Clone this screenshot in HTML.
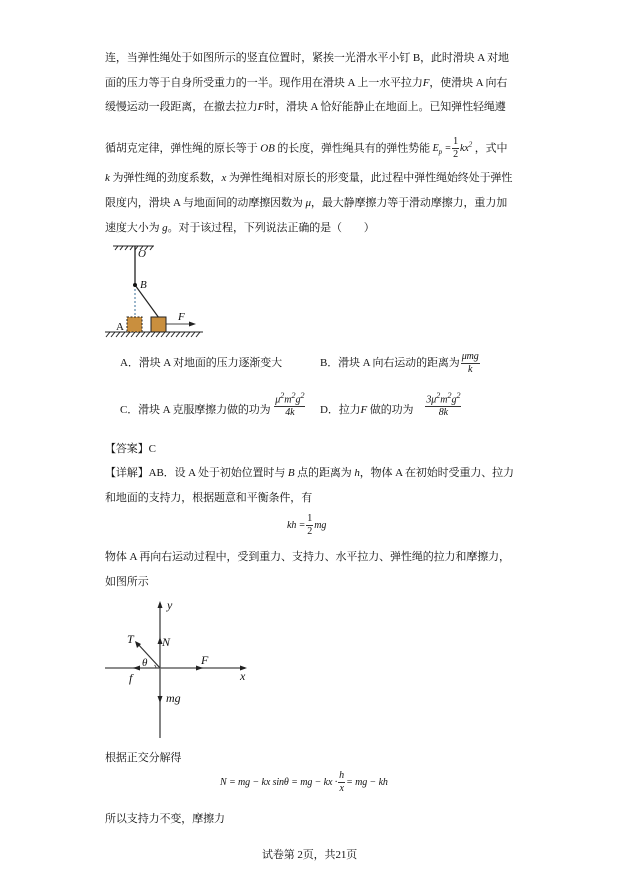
<!DOCTYPE html>
<html><head><meta charset="utf-8"><style>
body{margin:0;background:#fff;width:620px;height:877px;position:relative;overflow:hidden;font-family:"Liberation Serif","Noto Serif CJK SC","Noto Sans CJK SC",serif;font-size:11px;color:#111}
.l{position:absolute;white-space:nowrap;line-height:14px;letter-spacing:-0.1px}
i{font-family:"Liberation Serif",serif}
.f{display:inline-block;vertical-align:middle;text-align:center;font-family:"Liberation Serif",serif;font-style:italic;font-size:10px;line-height:12px;margin:0 1px}
.f .n{border-bottom:1px solid #333;padding:0 1px}
.m{font-family:"Liberation Serif",serif;font-style:italic;font-size:10px}
</style></head><body>
<div class="l" style="left:105px;top:51px">连，当弹性绳处于如图所示的竖直位置时，紧挨一光滑水平小钉 B，此时滑块 A 对地</div>
<div class="l" style="left:105px;top:76px">面的压力等于自身所受重力的一半。现作用在滑块 A 上一水平拉力<i>F</i>，使滑块 A 向右</div>
<div class="l" style="left:105px;top:100px">缓慢运动一段距离，在撤去拉力<i>F</i>时，滑块 A 恰好能静止在地面上。已知弹性轻绳遵</div>
<div class="l" style="left:105px;top:131px;line-height:28px">循胡克定律，弹性绳的原长等于 <i>OB</i> 的长度，弹性绳具有的弹性势能 <span class="m">E<sub style="font-size:7px">p</sub> =</span><span class="f" style="font-style:normal"><div class="n">1</div><div>2</div></span><span class="m">kx<sup style="font-size:7px">2</sup></span> ，式中</div>
<div class="l" style="left:105px;top:171px"><i>k</i> 为弹性绳的劲度系数，<i>x</i> 为弹性绳相对原长的形变量，此过程中弹性绳始终处于弹性</div>
<div class="l" style="left:105px;top:196px">限度内，滑块 A 与地面间的动摩擦因数为 <i>μ</i>，最大静摩擦力等于滑动摩擦力，重力加</div>
<div class="l" style="left:105px;top:221px">速度大小为 <i>g</i>。对于该过程，下列说法正确的是（　　）</div>

<svg style="position:absolute;left:0;top:0" width="620" height="877">
<g stroke="#222" stroke-width="1" fill="none">
<line x1="113" y1="246" x2="154" y2="246"/>
<path d="M115 250 l3 -4 M120 250 l3 -4 M125 250 l3 -4 M130 250 l3 -4 M135 250 l3 -4 M140 250 l3 -4 M145 250 l3 -4 M150 250 l3 -4"/>
<line x1="135" y1="246" x2="135" y2="284" stroke-width="1.3"/>
<line x1="135" y1="285" x2="135" y2="317" stroke="#3a6f9a" stroke-dasharray="2,2"/>
<line x1="135" y1="285" x2="159" y2="318" stroke-width="1.2"/>
<line x1="105" y1="332" x2="203" y2="332"/>
<path d="M106 337 l4 -5 M111 337 l4 -5 M116 337 l4 -5 M121 337 l4 -5 M126 337 l4 -5 M131 337 l4 -5 M136 337 l4 -5 M141 337 l4 -5 M146 337 l4 -5 M151 337 l4 -5 M156 337 l4 -5 M161 337 l4 -5 M166 337 l4 -5 M171 337 l4 -5 M176 337 l4 -5 M181 337 l4 -5 M186 337 l4 -5 M191 337 l4 -5 M196 337 l4 -5"/>
<line x1="166" y1="324" x2="192" y2="324" stroke="#444"/>
</g>
<circle cx="135" cy="285" r="2" fill="#111"/>
<rect x="127" y="317" width="15" height="15" fill="#c98f3e" stroke="#222" stroke-dasharray="2,1.5"/>
<rect x="151" y="317" width="15" height="15" fill="#c98f3e" stroke="#222"/>
<polygon points="196,324 189,321.5 189,326.5" fill="#222"/>
<g font-family="Liberation Serif" font-size="11" font-style="italic" fill="#111">
<text x="138" y="257">O</text><text x="140" y="288">B</text><text x="178" y="320">F</text>
<text x="116" y="330" font-style="normal">A</text>
</g>
<g stroke="#333" stroke-width="1.2" fill="none">
<line x1="160" y1="603" x2="160" y2="738"/>
<line x1="105" y1="668" x2="245" y2="668" stroke="#666" stroke-width="1.5"/>
<line x1="160" y1="668" x2="137" y2="643"/>
<path d="M156 668 a4 4 0 0 0 -1.5 -3" stroke-width="0.8"/>
</g>
<g fill="#222">
<polygon points="160,601 157.5,608 162.5,608"/>
<polygon points="160,637 157.5,644 162.5,644"/>
<polygon points="160,703 157.5,696 162.5,696"/>
<polygon points="247,668 240,665.5 240,670.5"/>
<polygon points="203,668 196,665.5 196,670.5"/>
<polygon points="133,668 140,665.5 140,670.5"/>
<polygon points="135,641 137,648 141,644"/>
</g>
<g font-family="Liberation Serif" font-size="12" font-style="italic" fill="#111">
<text x="167" y="609">y</text><text x="162" y="646">N</text><text x="127" y="643">T</text>
<text x="142" y="666" font-size="11">θ</text><text x="201" y="664">F</text>
<text x="240" y="680">x</text><text x="129" y="682">f</text><text x="166" y="702">mg</text>
</g>
</svg>

<div class="l" style="left:120px;top:356px">A．滑块 A 对地面的压力逐渐变大</div>
<div class="l" style="left:320px;top:349px;line-height:28px">B．滑块 A 向右运动的距离为<span class="f"><div class="n">μmg</div><div>k</div></span></div>
<div class="l" style="left:120px;top:392px;line-height:36px">C．滑块 A 克服摩擦力做的功为 <span class="f" style="position:relative;top:-6px"><div class="n">μ<sup>2</sup>m<sup>2</sup>g<sup>2</sup></div><div>4k</div></span></div>
<div class="l" style="left:320px;top:392px;line-height:36px">D．拉力<i>F</i> 做的功为　<span class="f" style="position:relative;top:-6px"><div class="n">3μ<sup>2</sup>m<sup>2</sup>g<sup>2</sup></div><div>8k</div></span></div>

<div class="l" style="left:105px;top:442px">【答案】C</div>
<div class="l" style="left:105px;top:466px">【详解】AB．设 A 处于初始位置时与 <i>B</i> 点的距离为 <i>h</i>，物体 A 在初始时受重力、拉力</div>
<div class="l" style="left:105px;top:491px">和地面的支持力，根据题意和平衡条件，有</div>
<div class="l" style="left:287px;top:511px;line-height:28px"><span class="m">kh =</span><span class="f" style="font-style:normal"><div class="n">1</div><div>2</div></span><span class="m">mg</span></div>
<div class="l" style="left:105px;top:550px">物体 A 再向右运动过程中，受到重力、支持力、水平拉力、弹性绳的拉力和摩擦力，</div>
<div class="l" style="left:105px;top:575px">如图所示</div>
<div class="l" style="left:105px;top:751px">根据正交分解得</div>
<div class="l" style="left:220px;top:768px;line-height:28px"><span class="m">N = mg − kx sinθ = mg − kx ·</span><span class="f"><div class="n">h</div><div>x</div></span><span class="m">= mg − kh</span></div>
<div class="l" style="left:105px;top:812px">所以支持力不变，摩擦力</div>
<div class="l" style="left:262px;top:848px">试卷第 2页，共21页</div>
</body></html>
